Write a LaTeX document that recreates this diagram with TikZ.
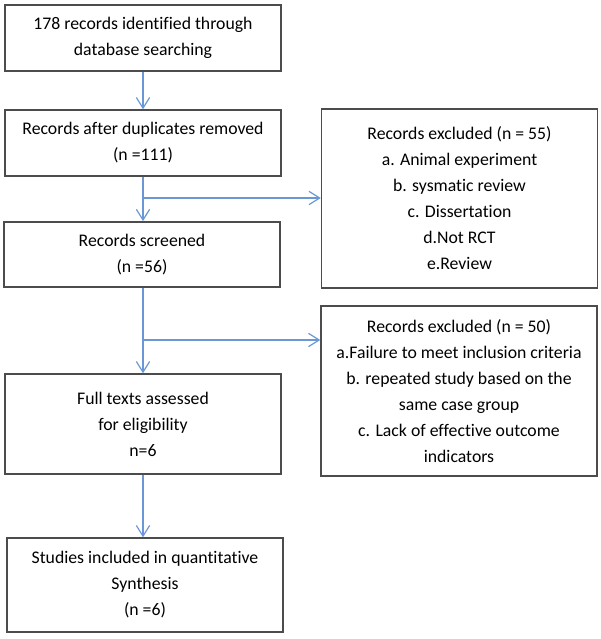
\documentclass[tikz,border=0pt]{standalone}
\usepackage{fontspec}
\setmainfont[Ligatures=NoCommon]{Carlito}
\usetikzlibrary{arrows.meta}

\definecolor{flowblue}{RGB}{106,152,214}
\tikzset{
  flowbox/.style={draw=black!70, line width=1.1pt, align=center, inner sep=0pt,
    minimum width=207pt, font=\fontsize{13.3}{19.5}\selectfont},
  flowline/.style={draw=flowblue, line width=0.9pt},
  flowarrow/.style={flowline, -{Straight Barb[length=8pt, width=10pt, line width=0.9pt]}}
}

\begin{document}
\begin{tikzpicture}[x=0.75pt, y=-0.75pt]
    \useasboundingbox (0,0) rectangle (600,639);
    % main column
    \node[flowbox, minimum height=49.5pt] (ident) at (143,38)
      {178 records identified through\\database searching};
    \node[flowbox, minimum height=49.5pt] (dedup) at (143,143)
      {Records after duplicates removed\\(n =111)};
    \node[flowbox, minimum height=49pt] (screen) at (142,254.5)
      {Records screened\\(n =56)};
    \node[flowbox, minimum height=75pt] (fulltext) at (143,424)
      {Full texts assessed\\for eligibility\\n=6};
    \node[flowbox, minimum height=70.5pt] (synth) at (145,585)
      {Studies included in quantitative\\Synthesis\\(n =6)};
    % exclusion boxes
    \node[flowbox, minimum height=134pt] (excla) at (459.5,198.5)
      {Records excluded (n = 55)\\a. Animal experiment\\b. sysmatic review\\c. Dissertation\\d.Not RCT\\e.Review};
    \node[flowbox, minimum height=127.5pt] (exclb) at (459,391)
      {Records excluded (n = 50)\\a.Failure to meet inclusion criteria\\b. repeated study based on the\\same case group\\c. Lack of effective outcome\\indicators};
    % connectors
    \coordinate (forka) at (143,198);
    \coordinate (forkb) at (143,340);
    \draw[flowarrow] (ident) -- (dedup);
    \draw[flowarrow] (dedup.south -| forka) -- (screen.north -| forka);
    \draw[flowarrow] (forka) -- (forka -| excla.west);
    \draw[flowarrow] (screen.south -| forkb) -- (fulltext.north -| forkb);
    \draw[flowarrow] (forkb) -- (forkb -| exclb.west);
    \draw[flowarrow] (fulltext) -- (synth.north -| fulltext);
\end{tikzpicture}
\end{document}
